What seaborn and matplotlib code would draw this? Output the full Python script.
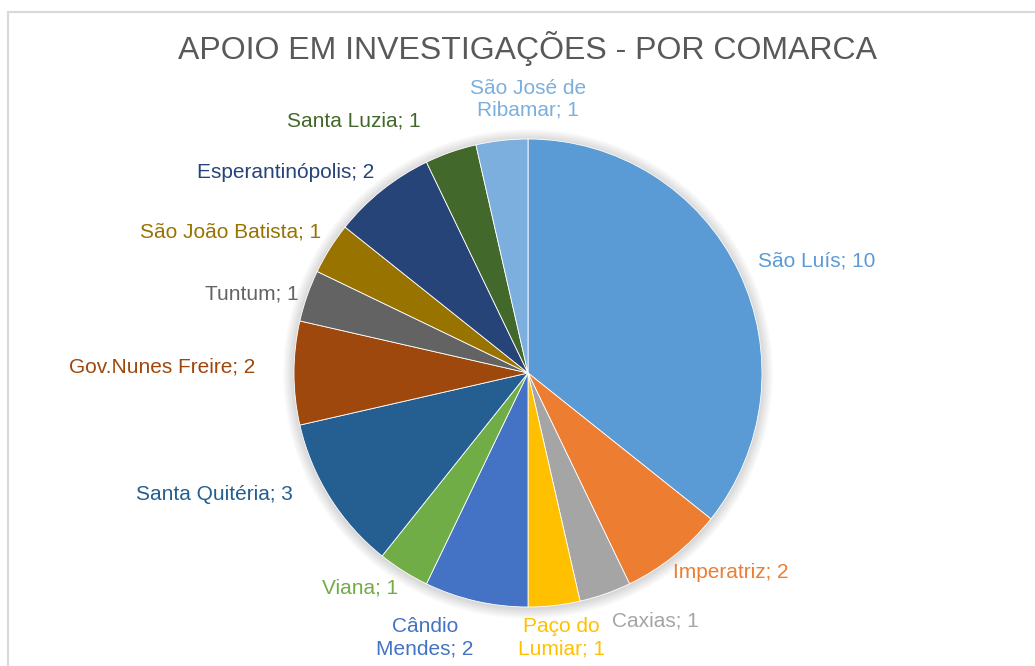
import matplotlib
matplotlib.use("Agg")
import matplotlib.pyplot as plt
from matplotlib.patches import Circle, Rectangle
import seaborn as sns

# Investigation support by district (comarca)
comarcas = [
    "São Luís", "Imperatriz", "Caxias", "Paço do\nLumiar", "Cândio\nMendes",
    "Viana", "Santa Quitéria", "Gov.Nunes Freire", "Tuntum",
    "São João Batista", "Esperantinópolis", "Santa Luzia", "São José de\nRibamar",
]
casos = [10, 2, 1, 1, 2, 1, 3, 2, 1, 1, 2, 1, 1]

cores = [
    "#5B9BD5", "#ED7D31", "#A5A5A5", "#FFC000", "#4472C4", "#70AD47",
    "#255E91", "#9E480E", "#636363", "#997300", "#264478", "#43682B", "#7CAFDD",
]

# label anchor points (pixels from top-left of the canvas)
label_pos = [
    (817, 261), (731, 573), (655, 621), (561, 638), (425, 638),
    (360, 588), (214, 494), (162, 367), (252, 294),
    (231, 232), (286, 172), (354, 121), (528, 99),
]

sns.set_theme(style="white")
plt.rcParams["font.family"] = ["Liberation Sans", "DejaVu Sans"]

W, H = 1035, 666
fig = plt.figure(figsize=(W / 100, H / 100), dpi=100)
ax = fig.add_axes([0, 0, 1, 1])

cx, cy, R = 528, H - 373, 234

# chart frame
ax.add_patch(Rectangle((8, -20), W + 40, H - 12 + 20, fill=False,
                       edgecolor="#D9D9D9", linewidth=1.5, zorder=0))

# soft outer shadow behind the pie
for i in range(10):
    ax.add_patch(Circle((cx, cy - 1), R + 1 + i * 1.1, facecolor="black",
                        alpha=0.014, edgecolor="none", zorder=1))

ax.pie(casos, colors=cores, startangle=90, counterclock=False,
       center=(cx, cy), radius=R, frame=True,
       wedgeprops=dict(edgecolor="white", linewidth=0.6, zorder=2))
ax.set_xlim(0, W)
ax.set_ylim(0, H)
ax.set_aspect("equal")
ax.axis("off")

for nome, v, c, (lx, ly) in zip(comarcas, casos, cores, label_pos):
    ax.text(lx, H - ly, f"{nome}; {v}", color=c, fontsize=15,
            ha="center", va="center", linespacing=1.2, zorder=3)

ax.text(528, H - 49, "APOIO EM INVESTIGAÇÕES - POR COMARCA", color="#595959",
        fontsize=23, ha="center", va="center", zorder=3)

fig.savefig("out.png", dpi=100, facecolor="white")
